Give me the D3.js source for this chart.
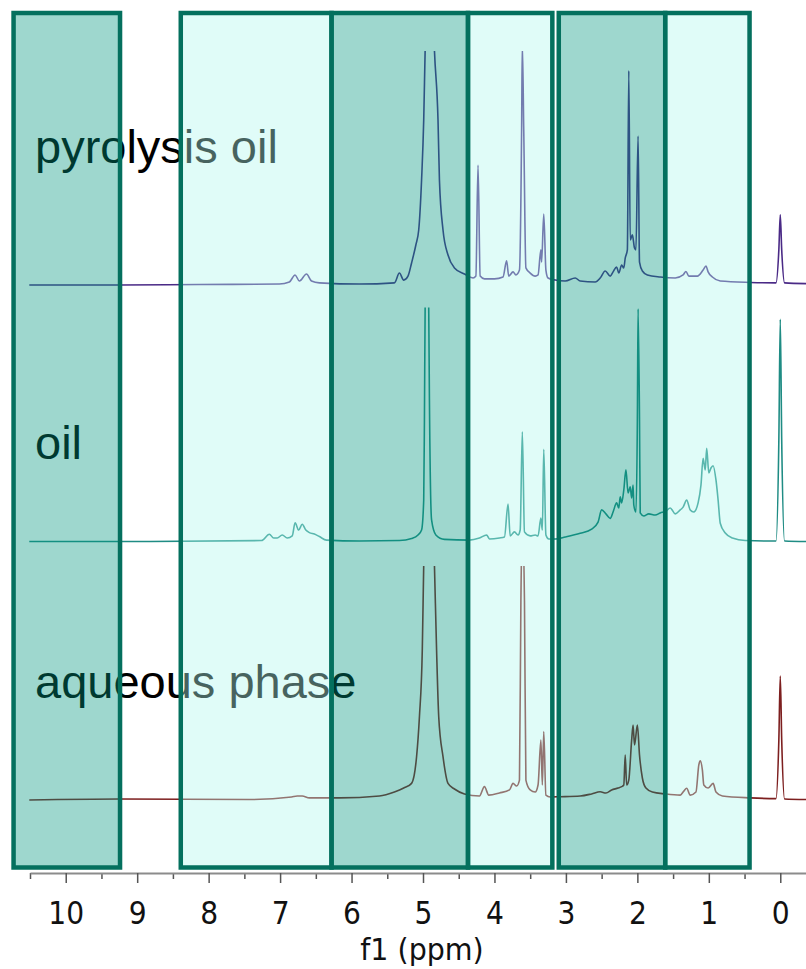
<!DOCTYPE html>
<html><head><meta charset="utf-8">
<script src="https://cdn.jsdelivr.net/npm/d3@7"></script>
<style>html,body{margin:0;padding:0;background:#fff;} svg{display:block}</style>
</head><body>
<svg id="chart" width="806" height="969"></svg>
<script>
// ---------------- DATA ----------------
const sampleNames = ["pyrolysis oil", "oil", "aqueous phase"];

// [chemical shift (ppm), relative intensity (100 = top of trace frame)]
const pyrolysisOil = [
[10.51,0],[9.25,0],[8.13,0.2],[7.01,0.4],[6.87,1.3],[6.79,4.3],[6.73,1.7],[6.63,4.7],[6.56,1.7],[6.45,0.9],
[5.89,0.4],[5.40,0.9],[5.33,5.1],[5.27,2.1],[5.21,3.8],[5.16,9.4],[5.10,17.1],[5.06,23.5],[5.02,44.9],[4.99,70.5],
[4.97,100.4],[4.90,160],[4.84,100.4],[4.79,70.5],[4.77,44.9],[4.72,23.5],[4.65,12.8],[4.56,7.3],[4.42,4.7],[4.30,3.0],
[4.26,3.8],[4.23,51.3],[4.20,3.8],[4.14,2.6],[4.00,2.6],[3.88,3.4],[3.83,10.3],[3.80,3.8],[3.74,5.6],[3.70,4.3],
[3.65,6.4],[3.62,66],[3.61,103],[3.59,66],[3.56,7.3],[3.50,5.1],[3.43,3.8],[3.39,4.3],[3.35,15],[3.34,9.8],
[3.31,30.3],[3.28,6.4],[3.25,3.0],[3.15,2.1],[3.01,1.7],[2.87,3.0],[2.80,1.7],[2.59,1.3],[2.52,3.0],[2.45,6.0],
[2.38,3.8],[2.34,5.6],[2.29,7.7],[2.26,5.1],[2.22,8.5],[2.19,7.3],[2.17,11.5],[2.14,15],[2.12,91.5],[2.10,19.2],
[2.07,21.4],[2.04,15.8],[2.02,15],[1.99,63.7],[1.97,9.8],[1.93,6.0],[1.86,4.3],[1.68,3.4],[1.47,3.0],[1.36,4.3],
[1.32,5.8],[1.28,3.8],[1.16,3.8],[1.08,6.4],[1.04,8.1],[1.01,5.6],[0.95,3.4],[0.84,1.7],[0.42,1.1],[0.06,0.9],
[0.02,15],[0.00,30],[-0.02,15],[-0.06,0.9],[-0.36,0.6]
];

const oilSpectrum = [
[10.51,0],[8.83,0],[7.26,0.4],[7.15,3.1],[7.09,1.5],[7.04,1.5],[6.97,2.8],[6.90,1.5],[6.83,2.4],[6.79,8.0],
[6.74,4.9],[6.69,7.4],[6.64,4.9],[6.59,3.8],[6.52,3.2],[6.45,2.1],[6.35,0.6],[5.89,0.2],[5.33,0.4],[5.16,1.3],
[5.07,2.8],[5.02,4.9],[4.99,17.7],[4.98,51.9],[4.97,100.2],[4.94,129],[4.92,100.2],[4.91,60.5],[4.88,9.2],[4.82,2.8],
[4.70,0.9],[4.35,0.6],[4.21,1.5],[4.11,2.8],[4.07,1.1],[3.93,1.5],[3.86,1.9],[3.81,16],[3.78,2.4],[3.72,4.1],
[3.67,2.8],[3.64,4.9],[3.61,46.9],[3.58,4.1],[3.50,2.4],[3.43,2.8],[3.39,2.4],[3.35,10],[3.33,4.9],[3.31,39.4],
[3.28,2.8],[3.24,1.1],[3.14,1.1],[3.01,1.9],[2.80,3.5],[2.64,5.3],[2.55,8.3],[2.50,13.5],[2.44,11.8],[2.38,9.9],
[2.34,12.6],[2.29,16.5],[2.26,14.3],[2.24,19.1],[2.22,16.5],[2.19,22],[2.16,30.6],[2.13,20.7],[2.10,23.4],[2.08,18.6],
[2.06,24.1],[2.05,15.6],[2.02,12.6],[2.00,51.9],[1.99,99.4],[1.97,51.9],[1.96,12.2],[1.91,10.9],[1.84,11.8],[1.75,11.3],
[1.68,12.2],[1.60,13],[1.54,14.3],[1.47,11.8],[1.40,13.5],[1.36,14.7],[1.31,17.7],[1.26,13.5],[1.21,12.6],[1.15,16.5],
[1.11,24.1],[1.08,35.6],[1.05,30.6],[1.03,39.8],[1.00,29.3],[0.97,31.4],[0.94,32.4],[0.90,26.3],[0.87,17.7],[0.84,7.8],
[0.77,3.6],[0.67,1.5],[0.49,0.4],[0.06,0.2],[0.02,43.4],[0.00,95],[-0.02,43.4],[-0.06,0.2],[-0.36,0]
];

const aqueousPhase = [
[10.51,0],[9.25,0.4],[7.43,0.2],[6.84,1.3],[6.76,1.7],[6.69,1.7],[6.59,0.9],[6.17,0.9],[5.61,1.7],[5.40,3.4],
[5.27,5.1],[5.16,7.1],[5.09,18.5],[5.05,35.6],[5.01,64.1],[4.99,100.4],[4.91,170],[4.84,100.4],[4.81,64.1],[4.78,35.6],
[4.72,18.5],[4.65,7.1],[4.56,4.7],[4.42,2.6],[4.21,1.7],[4.14,5.7],[4.08,2.1],[3.93,3.0],[3.79,4.3],[3.74,7.1],
[3.69,6.0],[3.65,8.5],[3.63,85],[3.61,120],[3.58,85],[3.56,8.5],[3.50,4.3],[3.43,3.4],[3.39,6.4],[3.35,25.6],
[3.33,6.4],[3.31,29.2],[3.28,2.1],[3.22,1.3],[3.08,1.4],[2.80,1.7],[2.64,2.6],[2.52,3.5],[2.44,3.0],[2.36,4.3],
[2.27,5.1],[2.22,5.7],[2.19,6.4],[2.17,19.2],[2.15,6.4],[2.12,8.5],[2.08,25.6],[2.06,32],[2.04,23.5],[2.00,32],
[1.97,19.2],[1.93,9.4],[1.88,5.1],[1.79,3.4],[1.61,2.6],[1.40,2.1],[1.35,3.8],[1.31,5],[1.26,2.1],[1.18,3.4],
[1.14,15],[1.12,16.7],[1.09,12.8],[1.07,6.4],[1.01,5.1],[0.94,7.1],[0.90,3.4],[0.81,1.7],[0.42,0.9],[0.06,0.6],
[0.02,25.6],[0.00,53],[-0.02,25.6],[-0.06,0.4],[-0.36,0.2]
];

// highlighted regions (ppm)
const regionStart = [10.73, 8.39, 6.28, 4.37, 3.10, 1.61];
const regionEnd   = [9.24, 6.28, 4.37, 3.19, 1.61, 0.43];
const regionShade = ["dark", "light", "dark", "light", "dark", "light"];

const majorTicks = [10, 9, 8, 7, 6, 5, 4, 3, 2, 1, 0];
const minorTicks = [10.5, 9.5, 8.5, 7.5, 6.5, 5.5, 4.5, 3.5, 2.5, 1.5, 0.5];
const axisTitle = "f1 (ppm)";

// ---------------- LAYOUT / STYLE ----------------
const W = 806, H = 969;
const axisY = 873;
const traceBase = [285, 541.5, 800];
const traceHeight = 234;
const labelBaseline = [163, 459, 698];
const traceColors = ["#4a2a86", "#1f8c84", "#7d1f1f"];
const boxTop = 13, boxBottom = 867.5;
const shadeFill = { dark: "rgba(0,150,125,0.38)", light: "rgba(178,248,238,0.40)" };
const borderColor = "#04705e";

const svg = d3.select("#chart");
const x = d3.scaleLinear().domain([10.5, -0.36]).range([30, 806]);
const y = d3.scaleLinear().domain([0, 100]).range([0, -traceHeight]);

// sample labels (beneath the translucent boxes)
svg.append("g").selectAll("text").data(sampleNames).join("text")
  .attr("x", 35).attr("y", (d, i) => labelBaseline[i])
  .attr("font-family", "'Liberation Sans', Arial, sans-serif")
  .attr("font-size", 47).attr("fill", "#000")
  .text(d => d);

// spectra
const spectra = [pyrolysisOil, oilSpectrum, aqueousPhase];
const line = d3.line().x(d => x(d[0])).y(d => y(d[1])).curve(d3.curveMonotoneX);
const defs = svg.append("defs");
spectra.forEach((data, i) => {
  defs.append("clipPath").attr("id", "clip" + i)
    .append("rect").attr("x", 0).attr("y", -traceHeight).attr("width", W).attr("height", traceHeight + 30);
  const g = svg.append("g").attr("transform", `translate(0,${traceBase[i]})`)
    .attr("clip-path", `url(#clip${i})`);
  const sorted = data.slice().sort((a, b) => b[0] - a[0]);
  g.append("path").datum(sorted)
    .attr("d", line)
    .attr("fill", "none")
    .attr("stroke", traceColors[i])
    .attr("stroke-width", 1.6)
    .attr("stroke-linejoin", "round");
});

// highlighted regions
const regions = regionStart.map((s, i) => ({ s, e: regionEnd[i], shade: regionShade[i] }));
svg.append("g").selectAll("rect").data(regions).join("rect")
  .attr("x", d => x(d.s)).attr("width", d => x(d.e) - x(d.s))
  .attr("y", boxTop).attr("height", boxBottom - boxTop)
  .attr("fill", d => shadeFill[d.shade])
  .attr("stroke", borderColor).attr("stroke-width", 4.5);

// axis
const minorAxis = svg.append("g").attr("transform", `translate(0,${axisY})`)
  .call(d3.axisBottom(x).tickValues(minorTicks).tickSize(6).tickSizeOuter(0).tickFormat(""));
minorAxis.select(".domain").remove();
minorAxis.selectAll("line").attr("stroke", "#555").attr("stroke-width", 1.5);

const majorAxis = svg.append("g").attr("transform", `translate(0,${axisY})`)
  .call(d3.axisBottom(x).tickValues(majorTicks).tickSize(10).tickSizeOuter(0).tickFormat(d3.format("d")));
majorAxis.select(".domain").attr("stroke", "#8c8c8c").attr("stroke-width", 2);
majorAxis.selectAll(".tick line").attr("stroke", "#555").attr("stroke-width", 1.5);
majorAxis.selectAll(".tick text")
  .attr("y", 51).attr("dy", 0)
  .attr("transform", "scale(0.88,1)")
  .attr("font-family", "'DejaVu Sans', Verdana, sans-serif")
  .attr("font-size", 32).attr("fill", "#111");

svg.append("text")
  .attr("transform", "translate(422,960) scale(0.92,1)")
  .attr("text-anchor", "middle")
  .attr("font-family", "'DejaVu Sans', Verdana, sans-serif")
  .attr("font-size", 31).attr("fill", "#111")
  .text(axisTitle);
</script>
</body></html>
